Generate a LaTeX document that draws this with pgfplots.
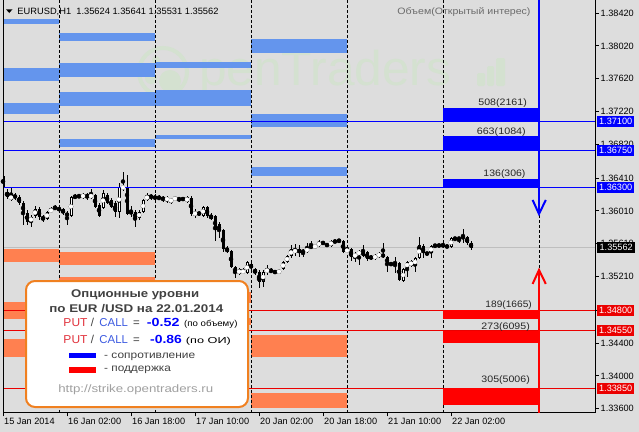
\documentclass[border=0pt]{standalone}
\usepackage{fontspec}
\setmainfont{Liberation Sans}
\usepackage{graphicx}
\usepackage{pgfplots}
\usepackage{pgfplotstable}
\pgfplotsset{compat=1.18}

\definecolor{bg}{RGB}{221,221,221}
\definecolor{zblue}{RGB}{100,149,237}
\definecolor{zorange}{RGB}{255,128,80}
\definecolor{boxorange}{RGB}{240,128,32}
\definecolor{wmgreen}{RGB}{212,225,208}
\definecolor{txtgrey}{RGB}{64,64,64}
\definecolor{putred}{RGB}{225,50,60}
\definecolor{callblue}{RGB}{60,90,225}
\definecolor{linkgrey}{RGB}{160,160,160}
\definecolor{pricegrey}{RGB}{190,190,190}
\definecolor{lvred}{RGB}{235,0,0}

\newcommand\mt{\fontsize{9.2}{11}\selectfont}
% set a text at the width it has in the screenshot, keeping its height
\newcommand\fw[2]{\resizebox{#1bp}{\height}{#2}}
\newcommand\zone[5]{\addplot[fill=#1,draw=none] coordinates {(#2,#4)(#3,#4)(#3,#5)(#2,#5)} --cycle;}
\newcommand\vsep[1]{\addplot[black,line width=1bp,dash pattern=on 3bp off 2bp] coordinates {(#1,1.38579)(#1,1.33548)};}
\newcommand\hlevel[2]{\addplot[#1,line width=1bp] coordinates {(0,#2)(148,#2)};}

% EURUSD H1 candles: bar index, open, high, low, close
\pgfplotstableread{
i o h l c
0 1.36435 1.36459 1.36277 1.36301
1 1.36240 1.36277 1.36155 1.36179
2 1.36143 1.36289 1.36130 1.36204
3 1.36204 1.36228 1.36143 1.36167
4 1.36179 1.36204 1.36082 1.36106
5 1.36106 1.36130 1.35838 1.35984
6 1.35984 1.36021 1.35838 1.35875
7 1.35875 1.35960 1.35814 1.35936
8 1.35948 1.36070 1.35923 1.36033
9 1.36033 1.36057 1.35899 1.35936
10 1.35936 1.35960 1.35875 1.35911
11 1.35911 1.36009 1.35899 1.35996
12 1.35996 1.36057 1.35984 1.36033
13 1.36033 1.36082 1.36021 1.36057
14 1.36045 1.36070 1.35996 1.36021
15 1.36033 1.36045 1.35960 1.35984
16 1.35984 1.36009 1.35838 1.35948
17 1.35948 1.36191 1.35936 1.36179
18 1.36167 1.36216 1.36155 1.36191
19 1.36191 1.36216 1.36167 1.36179
20 1.36167 1.36228 1.36155 1.36216
21 1.36216 1.36228 1.36143 1.36167
22 1.36167 1.36277 1.36155 1.36216
23 1.36204 1.36216 1.36045 1.36057
24 1.36082 1.36106 1.35936 1.35948
25 1.36045 1.36264 1.36033 1.36228
26 1.36204 1.36228 1.36094 1.36106
27 1.36143 1.36167 1.36045 1.36057
28 1.36106 1.36130 1.35936 1.35996
29 1.35996 1.36350 1.35923 1.36301
30 1.36277 1.36484 1.36252 1.36313
31 1.36289 1.36447 1.35960 1.35972
32 1.36009 1.36070 1.35936 1.35972
33 1.35996 1.36021 1.35814 1.35911
34 1.35923 1.36021 1.35899 1.35996
35 1.35996 1.36155 1.35984 1.36143
36 1.36143 1.36228 1.36130 1.36204
37 1.36204 1.36216 1.36143 1.36167
38 1.36191 1.36216 1.36130 1.36155
39 1.36155 1.36204 1.36143 1.36179
40 1.36179 1.36191 1.36118 1.36143
41 1.36130 1.36191 1.36106 1.36179
42 1.36118 1.36167 1.36094 1.36155
43 1.36143 1.36191 1.36130 1.36179
44 1.36167 1.36179 1.36118 1.36143
45 1.36167 1.36179 1.36130 1.36143
46 1.36118 1.36191 1.36106 1.36179
47 1.36167 1.36191 1.35948 1.35972
48 1.35960 1.36033 1.35923 1.35996
49 1.35996 1.36009 1.35948 1.35960
50 1.35948 1.36070 1.35936 1.36057
51 1.36057 1.36070 1.35923 1.35948
52 1.35960 1.35984 1.35899 1.35911
53 1.35948 1.35960 1.35643 1.35777
54 1.35850 1.35875 1.35680 1.35765
55 1.35777 1.35789 1.35509 1.35546
56 1.35558 1.35582 1.35497 1.35509
57 1.35521 1.35534 1.35314 1.35327
58 1.35327 1.35339 1.35193 1.35254
59 1.35241 1.35314 1.35229 1.35302
60 1.35254 1.35314 1.35241 1.35290
61 1.35254 1.35400 1.35241 1.35387
62 1.35363 1.35400 1.35266 1.35314
63 1.35302 1.35314 1.35229 1.35254
64 1.35266 1.35290 1.35071 1.35144
65 1.35144 1.35290 1.35083 1.35266
66 1.35266 1.35351 1.35229 1.35302
67 1.35290 1.35314 1.35254 1.35266
68 1.35278 1.35290 1.35241 1.35254
69 1.35254 1.35302 1.35241 1.35290
70 1.35302 1.35400 1.35290 1.35387
71 1.35387 1.35473 1.35375 1.35461
72 1.35461 1.35595 1.35436 1.35546
73 1.35497 1.35607 1.35461 1.35546
74 1.35546 1.35595 1.35448 1.35497
75 1.35521 1.35546 1.35448 1.35509
76 1.35509 1.35619 1.35497 1.35558
77 1.35582 1.35643 1.35546 1.35558
78 1.35558 1.35607 1.35546 1.35595
79 1.35582 1.35655 1.35570 1.35631
80 1.35631 1.35643 1.35595 1.35607
81 1.35607 1.35619 1.35570 1.35582
82 1.35582 1.35655 1.35570 1.35643
83 1.35643 1.35655 1.35619 1.35631
84 1.35655 1.35655 1.35631 1.35643
85 1.35643 1.35655 1.35497 1.35509
86 1.35509 1.35595 1.35497 1.35546
87 1.35546 1.35558 1.35400 1.35448
88 1.35448 1.35509 1.35387 1.35485
89 1.35473 1.35534 1.35351 1.35521
90 1.35521 1.35595 1.35448 1.35461
91 1.35509 1.35521 1.35400 1.35424
92 1.35461 1.35473 1.35412 1.35424
93 1.35424 1.35485 1.35412 1.35473
94 1.35448 1.35509 1.35436 1.35497
95 1.35485 1.35619 1.35436 1.35448
96 1.35448 1.35461 1.35266 1.35363
97 1.35351 1.35387 1.35339 1.35375
98 1.35387 1.35448 1.35254 1.35363
99 1.35375 1.35387 1.35156 1.35168
100 1.35156 1.35314 1.35144 1.35302
101 1.35314 1.35400 1.35205 1.35387
102 1.35339 1.35412 1.35327 1.35400
103 1.35339 1.35448 1.35266 1.35436
104 1.35436 1.35692 1.35424 1.35595
105 1.35582 1.35607 1.35436 1.35497
106 1.35497 1.35509 1.35473 1.35485
107 1.35497 1.35595 1.35436 1.35582
108 1.35582 1.35607 1.35558 1.35595
109 1.35595 1.35607 1.35570 1.35582
110 1.35595 1.35631 1.35558 1.35582
111 1.35582 1.35595 1.35558 1.35570
112 1.35570 1.35692 1.35558 1.35680
113 1.35680 1.35692 1.35643 1.35668
114 1.35668 1.35692 1.35619 1.35680
115 1.35680 1.35789 1.35619 1.35692
116 1.35692 1.35704 1.35595 1.35619
117 1.35624 1.35641 1.35531 1.35562
}\candles

\begin{document}
\begin{tikzpicture}
\fill[bg] (0,0) rectangle (639bp,-432bp);
% watermark
\begin{scope}[x=1bp,y=-1bp]
  \draw[wmgreen,line width=4bp] (163,72) circle (24);
  \fill[wmgreen] (156,60) circle (4);
  \fill[wmgreen] (170,81) circle (11);
  \fill[wmgreen] (151,78) circle (6);
  \node[anchor=base west,inner sep=0pt,text=wmgreen,font=\fontsize{49}{50}\selectfont] at (199,85) {\fw{252}{penTraders}};
  \fill[wmgreen,rounded corners=1.5bp] (477,73) rectangle (485,86);
  \fill[wmgreen,rounded corners=1.5bp] (487,66) rectangle (494,86);
  \fill[wmgreen,rounded corners=1.5bp] (496,58) rectangle (505,86);
\end{scope}

\begin{axis}[at={(3bp,0bp)},anchor=north west,scale only axis,
  width=592bp,height=413bp,
  xmin=0,xmax=148,ymin=1.33548,ymax=1.38579,
  axis x line*=bottom,axis y line*=right,
  axis line style={black,line width=1bp},
  tick align=outside,major tick length=3.5bp,
  tick style={black,line width=0.8bp},
  xtick={0,16,32,48,64,80,96,112},
  xticklabels={15 Jan 2014,16 Jan 02:00,16 Jan 18:00,17 Jan 10:00,20 Jan 02:00,20 Jan 18:00,21 Jan 10:00,22 Jan 02:00},
  ytick={1.3842,1.3802,1.3762,1.3722,1.3682,1.3641,1.3601,1.3561,1.3521,1.3480,1.3440,1.3400,1.3360},
  scaled y ticks=false,
  /pgf/number format/assume math mode=true,
  yticklabel style={/pgf/number format/fixed,/pgf/number format/fixed zerofill,/pgf/number format/precision=5,
    font=\mt,anchor=west,inner sep=0pt,xshift=2bp},
  xticklabel style={font=\mt,anchor=north west,inner sep=0pt,xshift=1bp,yshift=-1bp},
  clip=true]

\hlevel{pricegrey}{1.35562}

% resistance zones (light blue) and support zones (orange) per day
\zone{zblue}{0}{14}{1.38347}{1.38286}
\zone{zblue}{0}{14}{1.37750}{1.37592}
\zone{zblue}{0}{14}{1.37324}{1.37190}
\zone{zorange}{0}{14}{1.35546}{1.35387}
\zone{zorange}{0}{14}{1.34900}{1.34693}
\zone{zorange}{0}{14}{1.34450}{1.34230}
\zone{zblue}{14}{38}{1.38177}{1.38079}
\zone{zblue}{14}{38}{1.37811}{1.37641}
\zone{zblue}{14}{38}{1.37458}{1.37288}
\zone{zblue}{14}{38}{1.36886}{1.36788}
\zone{zorange}{14}{38}{1.35509}{1.35351}
\zone{zorange}{14}{38}{1.35205}{1.35046}
\zone{zblue}{38}{62}{1.37823}{1.37750}
\zone{zblue}{38}{62}{1.37482}{1.37288}
\zone{zblue}{38}{62}{1.36934}{1.36886}
\zone{zorange}{38}{62}{1.35022}{1.34888}
\zone{zorange}{38}{62}{1.34705}{1.34620}
\zone{zblue}{62}{86}{1.38104}{1.37933}
\zone{zblue}{62}{86}{1.37190}{1.37032}
\zone{zblue}{62}{86}{1.36545}{1.36435}
\zone{zorange}{62}{86}{1.34498}{1.34230}
\zone{zorange}{62}{86}{1.33792}{1.33609}

\vsep{14}\vsep{38}\vsep{62}\vsep{86}\vsep{110}\vsep{134}

% candles: wicks, bodies, hollow interior of rising bars
\addplot[black,only marks,mark=none,
  error bars/y dir=both,error bars/y explicit,error bars/error mark=none,
  error bars/error bar style={line width=1bp,solid}]
  table[x=i,y expr={(\thisrow{h}+\thisrow{l})/2},y error expr={(\thisrow{h}-\thisrow{l})/2}] {\candles};
\addplot[black,only marks,mark=none,
  error bars/y dir=both,error bars/y explicit,error bars/error mark=none,
  error bars/error bar style={line width=3bp,solid}]
  table[x=i,y expr={(\thisrow{o}+\thisrow{c})/2},y error expr={max(abs(\thisrow{o}-\thisrow{c})/2,0.00006)}] {\candles};
\addplot[white,only marks,mark=none,
  error bars/y dir=both,error bars/y explicit,error bars/error mark=none,
  error bars/error bar style={line width=1bp,solid}]
  table[x=i,y expr={((\thisrow{c}-\thisrow{o})>0.00025) ? ((\thisrow{o}+\thisrow{c})/2) : 1},
        y error expr={max((\thisrow{c}-\thisrow{o})/2-0.000122,0.00001)}] {\candles};

\hlevel{blue}{1.37100}
\hlevel{blue}{1.36750}
\hlevel{blue}{1.36300}
\hlevel{lvred}{1.34800}
\hlevel{lvred}{1.34550}
\hlevel{lvred}{1.33850}

% option volume levels for 22 Jan
\zone{blue}{110}{134}{1.37263}{1.37100}
\zone{blue}{110}{134}{1.36922}{1.36750}
\zone{blue}{110}{134}{1.36398}{1.36300}
\zone{red}{110}{134}{1.34800}{1.34697}
\zone{red}{110}{134}{1.34550}{1.34405}
\zone{red}{110}{134}{1.33850}{1.33649}

% arrows
\addplot[blue,line width=2bp] coordinates {(134,1.38579)(134,1.35972)};
\addplot[blue,line width=2bp] coordinates {(132.4,1.36143)(134,1.35972)(135.7,1.36143)};
\addplot[red,line width=2bp] coordinates {(134,1.33548)(134,1.35290)};
\addplot[red,line width=2bp] coordinates {(132.4,1.35120)(134,1.35290)(135.7,1.35120)};

\coordinate (L1) at (axis cs:148,1.37100);
\coordinate (L2) at (axis cs:148,1.36750);
\coordinate (L3) at (axis cs:148,1.36300);
\coordinate (L4) at (axis cs:148,1.35562);
\coordinate (L5) at (axis cs:148,1.34800);
\coordinate (L6) at (axis cs:148,1.34550);
\coordinate (L7) at (axis cs:148,1.33850);
\end{axis}

\tikzset{lvl/.style={text=white,font=\mt,inner sep=0pt,minimum width=37bp,minimum height=11bp,anchor=west}}
\node[lvl,fill=blue] at ([xshift=2bp]L1) {1.37100};
\node[lvl,fill=blue] at ([xshift=2bp]L2) {1.36750};
\node[lvl,fill=blue] at ([xshift=2bp]L3) {1.36300};
\node[lvl,fill=black,minimum width=38bp] at ([xshift=2bp]L4) {1.35562};
\node[lvl,fill=lvred] at ([xshift=2bp]L5) {1.34800};
\node[lvl,fill=lvred] at ([xshift=2bp]L6) {1.34550};
\node[lvl,fill=lvred] at ([xshift=2bp]L7) {1.33850};

\begin{scope}[x=1bp,y=-1bp]
  \draw[black,line width=1bp] (3,0) -- (3,413);
  % header
  \fill[black] (6,9.3) -- (12.5,9.3) -- (9.25,13) -- cycle;
  \node[anchor=base west,inner sep=0pt,font=\mt] at (17.3,14.3) {\fw{201}{EURUSD,H1\ \ 1.35624 1.35641 1.35531 1.35562}};
  \node[anchor=base,inner sep=0pt,font=\fontsize{9.3}{10}\selectfont,text=black!58] at (464,14) {\fw{133}{Объем(Открытый интерес)}};
  % volume (open interest) labels
  \tikzset{vl/.style={anchor=base east,inner sep=0pt,font=\fontsize{9.4}{11}\selectfont,text=black!85}}
  \node[vl] at (527,106) {\fw{48.4}{508(2161)}};
  \node[vl] at (526,135) {\fw{49}{663(1084)}};
  \node[vl] at (525.7,176.5) {\fw{42}{136(306)}};
  \node[vl] at (532,307.3) {\fw{46.3}{189(1665)}};
  \node[vl] at (530,329.3) {\fw{48.3}{273(6095)}};
  \node[vl] at (530,382.7) {\fw{48.3}{305(5006)}};
  % info box
  \draw[boxorange,line width=2bp,fill=white,rounded corners=9bp] (26,281) rectangle (248,407);
  \tikzset{hd/.style={anchor=base,inner sep=0pt,font=\fontsize{11.2}{12}\selectfont\bfseries,text=txtgrey}}
  \node[hd] at (135.2,297.5) {\fw{128}{Опционные уровни}};
  \node[hd] at (136.3,312.7) {\fw{174}{по EUR /USD на 22.01.2014}};
  \tikzset{bx/.style={anchor=base west,inner sep=0pt,font=\fontsize{11.5}{12}\selectfont}}
  \node[bx,text=putred] at (63.3,326.5) {\fw{24}{PUT}};
  \node[bx,text=txtgrey] at (90.7,326.5) {/};
  \node[bx,text=callblue] at (99.3,326.5) {\fw{28.4}{CALL}};
  \node[bx,text=txtgrey] at (133,326.5) {=};
  \node[bx,text=blue,font=\fontsize{11.8}{13}\selectfont\bfseries] at (146.7,326.5) {\fw{32.6}{-0.52}};
  \node[bx,text=black,font=\fontsize{8.6}{10}\selectfont] at (184,326.5) {\fw{53.3}{(по объему)}};
  \node[bx,text=putred] at (63.3,343.3) {\fw{24}{PUT}};
  \node[bx,text=txtgrey] at (90.7,343.3) {/};
  \node[bx,text=callblue] at (99.3,343.3) {\fw{28.4}{CALL}};
  \node[bx,text=txtgrey] at (133,343.3) {=};
  \node[bx,text=blue,font=\fontsize{11.8}{13}\selectfont\bfseries] at (150,343.3) {\fw{31.7}{-0.86}};
  \node[bx,text=black,font=\fontsize{8.6}{10}\selectfont] at (185.7,343.3) {\fw{45}{(по ОИ)}};
  \fill[blue] (69,352.7) rectangle (96,358.3);
  \fill[red] (69,367) rectangle (96,372.7);
  \node[bx,text=txtgrey,font=\fontsize{10.2}{12}\selectfont] at (104,358.5) {\fw{91}{- сопротивление}};
  \node[bx,text=txtgrey,font=\fontsize{10.2}{12}\selectfont] at (104,371.5) {\fw{66.7}{- поддержка}};
  \node[anchor=base,inner sep=0pt,font=\fontsize{10.8}{12}\selectfont,text=linkgrey] at (135.8,392.5) {\fw{155}{http://strike.opentraders.ru}};
\end{scope}
\pgfresetboundingbox
\path[use as bounding box] (0,0) rectangle (639bp,-432bp);
\end{tikzpicture}
\end{document}
